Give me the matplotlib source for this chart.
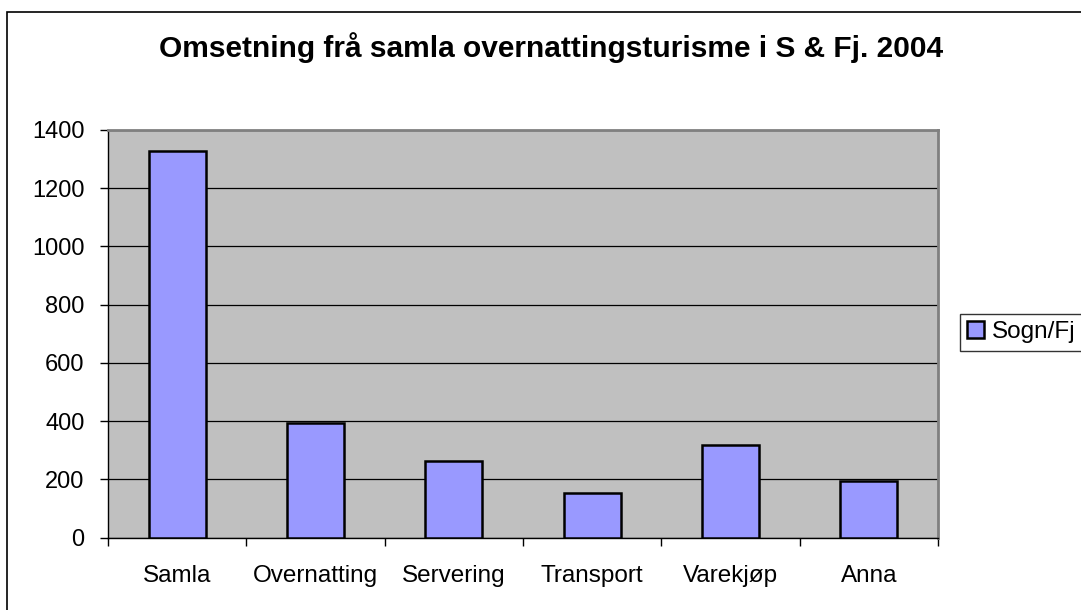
import matplotlib.pyplot as plt
import matplotlib.patches as patches
import numpy as np

plt.rcParams['font.family'] = ['Liberation Sans', 'DejaVu Sans']

categories = ['Samla', 'Overnatting', 'Servering', 'Transport', 'Varekjøp', 'Anna']
values = [1328, 393, 262, 152, 319, 193]
series_name = 'Sogn/Fj'
title = 'Omsetning frå samla overnattingsturisme i S & Fj. 2004'

fig = plt.figure(figsize=(10.81, 6.10), dpi=100)
ax = fig.add_axes([108/1081, 1 - 537.5/610, (938 - 108)/1081, (537.5 - 130)/610])

x = np.arange(len(categories))
ax.set_facecolor('#C0C0C0')
ax.bar(x, values, width=0.41, color='#9999FF', edgecolor='black',
       linewidth=1.8, zorder=3, label=series_name)

ax.set_ylim(0, 1400)
ax.set_xlim(-0.5, len(categories) - 0.5)
ax.set_yticks(np.arange(0, 1401, 200))
ax.yaxis.grid(True, color='black', linewidth=0.9, zorder=1)
ax.set_axisbelow(True)

# category labels in the middle, tick marks on the boundaries
ax.set_xticks(x)
ax.set_xticklabels(categories, fontsize=17.5)
ax.set_xticks(np.arange(-0.5, len(categories)), minor=True)
ax.tick_params(axis='x', which='major', length=0, pad=20)
ax.tick_params(axis='x', which='minor', length=6, width=1, color='black')
ax.tick_params(axis='y', length=6, width=1, labelsize=17, pad=11)

for s in ['left', 'bottom']:
    ax.spines[s].set_color('black')
    ax.spines[s].set_linewidth(1.0)
for s in ['top', 'right']:
    ax.spines[s].set_color('#808080')
    ax.spines[s].set_linewidth(2.0)

fig.text(551/1081, 1 - 48/610, title, ha='center', va='center',
         fontsize=21.5, fontweight='bold')

leg = fig.legend(loc='upper left', bbox_to_anchor=(960/1081, 1 - 314/610),
                 fontsize=17.5, frameon=True, fancybox=False, edgecolor='black',
                 borderaxespad=0, handlelength=0.7, handleheight=0.7,
                 handletextpad=0.3, borderpad=0.3)
leg.get_frame().set_linewidth(1.0)

# outer chart border
fig.patches.append(patches.Rectangle((7/1081, -0.1), 1.2, 1.1 - 12/610,
                                     transform=fig.transFigure, fill=False,
                                     edgecolor='black', linewidth=1.2))

fig.savefig('out.png', dpi=100)
